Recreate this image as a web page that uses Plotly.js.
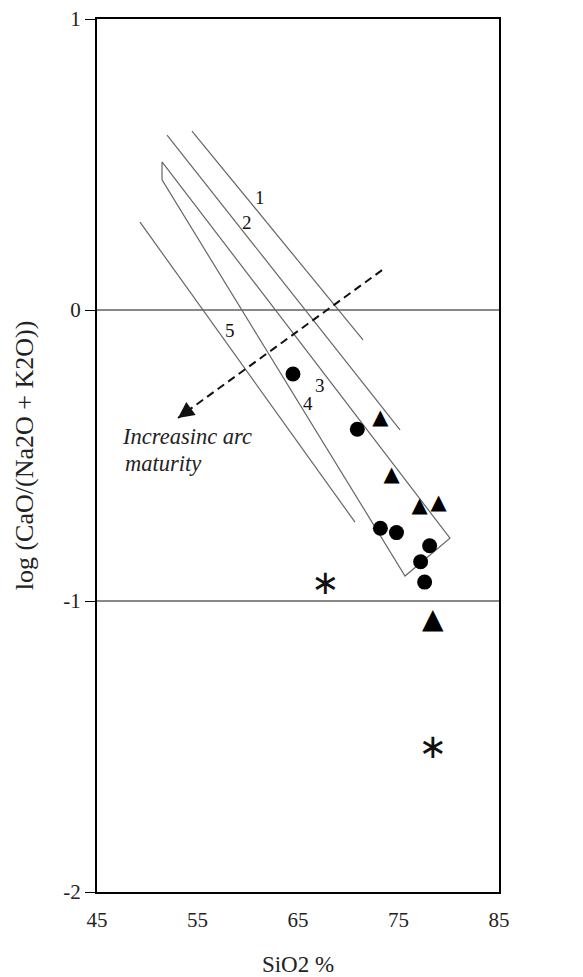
<!DOCTYPE html>
<html>
<head>
<meta charset="utf-8">
<script src="https://cdn.plot.ly/plotly-3.0.1.min.js"></script>
<style>html,body{margin:0;padding:0;background:#fff;}#chart{width:583px;height:977px;}</style>
</head>
<body>
<div id="chart"></div>
<script>
// ---- data ----
const xTickVals = [45, 55, 65, 75, 85];
const xTickText = ["45", "55", "65", "75", "85"];
const yTickVals = [-2, -1, 0, 1];
const yTickText = ["-2", "-1", "0", "1"];

// trend lines / field boundaries
const line1X = [54.45, 71.47];
const line1Y = [0.615, -0.103];
const line2X = [51.97, 75.15];
const line2Y = [0.601, -0.412];
const field34X = [51.47, 80.12, 75.65, 51.47, 51.47];
const field34Y = [0.509, -0.784, -0.914, 0.447, 0.509];
const line5X = [49.28, 70.67];
const line5Y = [0.302, -0.729];

// arc maturity arrow
const arrowX = [73.36, 53.06];
const arrowY = [0.137, -0.371];

// samples
const circleX = [64.5, 70.9, 73.2, 74.8, 78.1, 77.2, 77.6];
const circleY = [-0.22, -0.41, -0.75, -0.765, -0.81, -0.865, -0.935];
const triangleX = [73.2, 74.3, 77.1, 79.0, 78.4];
const triangleY = [-0.375, -0.57, -0.675, -0.665, -1.07];
const starX = [67.7, 78.4];
const starY = [-0.945, -1.512];

// line labels
const labelText = ["1", "2", "3", "4", "5"];
const labelX = [61.2, 59.9, 67.2, 66.0, 58.2];
const labelY = [0.388, 0.302, -0.258, -0.320, -0.069];

// ---- chart ----
const serif = "Liberation Serif, Times New Roman, serif";
const thin = {color: "#666", width: 1.2};

const traces = [
  {x: line1X, y: line1Y, mode: "lines", line: thin, hoverinfo: "skip"},
  {x: line2X, y: line2Y, mode: "lines", line: thin, hoverinfo: "skip"},
  {x: field34X, y: field34Y, mode: "lines", line: thin, hoverinfo: "skip"},
  {x: line5X, y: line5Y, mode: "lines", line: thin, hoverinfo: "skip"},
  {x: arrowX, y: arrowY, mode: "lines",
   line: {color: "#111", width: 2, dash: "8px,5px"}, hoverinfo: "skip"},
  {x: circleX, y: circleY, mode: "markers",
   marker: {symbol: "circle", size: 15, color: "#000"}},
  {x: triangleX, y: triangleY, mode: "text", text: triangleX.map(() => "\u25B2"),
   textposition: "middle center",
   textfont: {family: "DejaVu Sans", size: [21, 21, 21, 21, 28], color: "#000"}},
  {x: starX, y: starY, mode: "text", text: starX.map(() => "\u2217"),
   textposition: "middle center",
   textfont: {family: "DejaVu Sans", size: 34, color: "#111"}}
];

const annotations = labelText.map((t, i) => ({
  x: labelX[i], y: labelY[i], xref: "x", yref: "y", text: t, showarrow: false,
  font: {family: serif, size: 19, color: "#111"}
}));
annotations.push({x: 47.25, y: -0.436, xref: "x", yref: "y", xanchor: "left",
  text: "<i>Increasinc arc</i>", showarrow: false, font: {family: serif, size: 22.5, color: "#222"}});
annotations.push({x: 47.55, y: -0.526, xref: "x", yref: "y", xanchor: "left",
  text: "<i>maturity</i>", showarrow: false, font: {family: serif, size: 22.5, color: "#222"}});
// arrow head at the end of the dashed trend
annotations.push({x: arrowX[1], y: arrowY[1], xref: "x", yref: "y",
  ax: arrowX[1] + (arrowX[0] - arrowX[1]) * 0.06, ay: arrowY[1] + (arrowY[0] - arrowY[1]) * 0.06,
  axref: "x", ayref: "y", text: "", showarrow: true,
  arrowhead: 2, arrowsize: 1.6, arrowwidth: 2, arrowcolor: "#111", standoff: 0});

const layout = {
  width: 583, height: 977,
  margin: {l: 97, r: 84, t: 19, b: 85},
  paper_bgcolor: "#fff", plot_bgcolor: "#fff",
  showlegend: false,
  font: {family: serif, color: "#222"},
  xaxis: {
    range: [45, 85], tickvals: xTickVals, ticktext: xTickText, ticks: "",
    showgrid: false, zeroline: false, showline: true, mirror: true,
    linecolor: "#000", linewidth: 2, ticklabelstandoff: 8,
    tickfont: {family: serif, size: 21, color: "#222"},
    title: {text: "SiO2 %", font: {family: serif, size: 23, color: "#222"}, standoff: 26}
  },
  yaxis: {
    range: [-2, 1], tickvals: yTickVals, ticktext: yTickText,
    ticks: "outside", ticklen: 10, tickwidth: 1, tickcolor: "#000",
    showgrid: true, gridcolor: "#888", gridwidth: 1.5, zeroline: false,
    showline: true, mirror: true, linecolor: "#000", linewidth: 2,
    tickfont: {family: serif, size: 21, color: "#222"},
    title: {text: "log (CaO/(Na2O + K2O))", font: {family: serif, size: 26, color: "#222"}, standoff: 22}
  },
  annotations: annotations
};

Plotly.newPlot("chart", traces, layout, {displayModeBar: false, staticPlot: true});
</script>
</body>
</html>
